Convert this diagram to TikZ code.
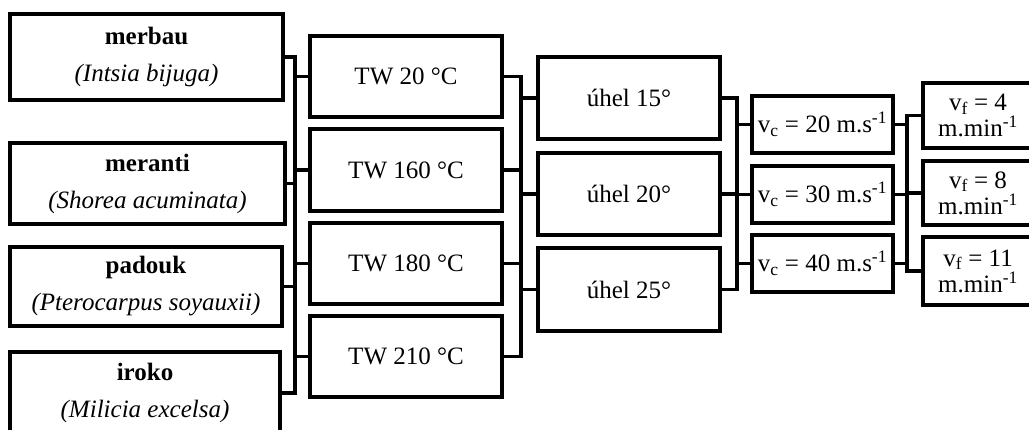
\documentclass[tikz,border=0pt]{standalone}
\usepackage{fontspec}
\setmainfont{Liberation Serif}
\begin{document}
\begin{tikzpicture}[x=1pt,y=-1pt,
  box/.style={draw, line width=3.5pt, rectangle, inner sep=0pt, align=center,
    font=\fontsize{25}{37}\selectfont},
  vfbox/.style={box, font=\fontsize{25}{26}\selectfont},
  conn/.style={line width=3.5pt, line join=miter}
]
\clip (0,0) rectangle (1029,430);
\fill[white] (0,0) rectangle (1029,430);

% species
\node[box, minimum width=273, minimum height=86] (merbau) at (146.5,57) {\textbf{merbau}\\\textit{(Intsia bijuga)}};
\node[box, minimum width=275, minimum height=81] (meranti) at (147.5,183.5) {\textbf{meranti}\\\textit{(Shorea acuminata)}};
\node[box, minimum width=272, minimum height=79] (padouk) at (146,286.5) {\textbf{padouk}\\\textit{(Pterocarpus soyauxii)}};
\node[box, minimum width=270, minimum height=82] (iroko) at (145,393) {\textbf{iroko}\\\textit{(Milicia excelsa)}};

% temperatures
\node[box, minimum width=192, minimum height=81] (tw20) at (406,76.5) {TW 20 °C};
\node[box, minimum width=192, minimum height=82] (tw160) at (406,170) {TW 160 °C};
\node[box, minimum width=192, minimum height=81] (tw180) at (406,263.5) {TW 180 °C};
\node[box, minimum width=192, minimum height=81] (tw210) at (406,356.5) {TW 210 °C};

% angles
\node[box, minimum width=182, minimum height=82] (u15) at (629,98) {úhel 15°};
\node[box, minimum width=182, minimum height=82] (u20) at (629,194) {úhel 20°};
\node[box, minimum width=182, minimum height=83] (u25) at (629,289.5) {úhel 25°};

% cutting speeds
\node[box, minimum width=141, minimum height=57] (vc20) at (822.5,124.5) {v\textsubscript{c} = 20 m.s\textsuperscript{-1}};
\node[box, minimum width=141, minimum height=57] (vc30) at (822.5,194.5) {v\textsubscript{c} = 30 m.s\textsuperscript{-1}};
\node[box, minimum width=141, minimum height=57] (vc40) at (822.5,263.5) {v\textsubscript{c} = 40 m.s\textsuperscript{-1}};

% feed speeds
\node[vfbox, minimum width=110, minimum height=65] (vf4) at (978,115.5) {v\textsubscript{f} = 4\\m.min\textsuperscript{-1}};
\node[vfbox, minimum width=110, minimum height=64] (vf8) at (978,193) {v\textsubscript{f} = 8\\m.min\textsuperscript{-1}};
\node[vfbox, minimum width=110, minimum height=68] (vf11) at (978,271) {v\textsubscript{f} = 11\\m.min\textsuperscript{-1}};

% bus coordinates
\coordinate (b1) at (295,0);
\coordinate (b2) at (521,0);
\coordinate (b3) at (737,0);
\coordinate (b4) at (907,0);

% bus 1
\draw[conn] (merbau.east) -| (iroko.east -| b1) -- (iroko.east);
\draw[conn] (meranti.east) -- (meranti.east -| b1);
\draw[conn] (padouk.east) -- (padouk.east -| b1);
\draw[conn] (tw20.west -| b1) -- (tw20.west);
\draw[conn] (tw160.west -| b1) -- (tw160.west);
\draw[conn] (tw180.west -| b1) -- (tw180.west);
\draw[conn] (tw210.west -| b1) -- (tw210.west);

% bus 2
\draw[conn] (tw20.east) -| (tw210.east -| b2) -- (tw210.east);
\draw[conn] (tw160.east) -- (tw160.east -| b2);
\draw[conn] (tw180.east) -- (tw180.east -| b2);
\draw[conn] (u15.west -| b2) -- (u15.west);
\draw[conn] (u20.west -| b2) -- (u20.west);
\draw[conn] (u25.west -| b2) -- (u25.west);

% bus 3
\draw[conn] (u15.east) -| (u25.east -| b3) -- (u25.east);
\draw[conn] (u20.east) -- (u20.east -| b3);
\draw[conn] (vc20.west -| b3) -- (vc20.west);
\draw[conn] (vc30.west -| b3) -- (vc30.west);
\draw[conn] (vc40.west -| b3) -- (vc40.west);

% bus 4
\draw[conn] (vf4.west) -| (vf11.west -| b4) -- (vf11.west);
\draw[conn] (vf8.west) -- (vf8.west -| b4);
\draw[conn] (vc20.east) -- (vc20.east -| b4);
\draw[conn] (vc30.east) -- (vc30.east -| b4);
\draw[conn] (vc40.east) -- (vc40.east -| b4);
\end{tikzpicture}
\end{document}
